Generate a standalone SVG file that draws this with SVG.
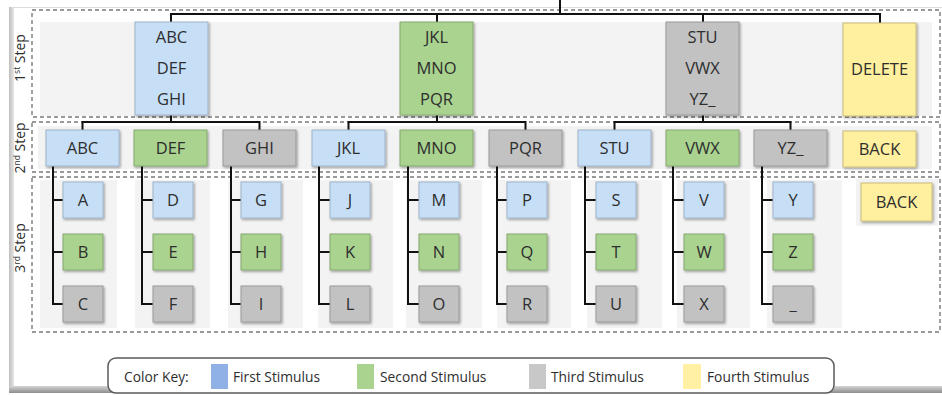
<svg xmlns="http://www.w3.org/2000/svg" width="942" height="395" viewBox="0 0 942 395">
  <defs>
    <filter id="shadow" x="-10%" y="-10%" width="130%" height="130%">
      <feDropShadow dx="1.2" dy="1.5" stdDeviation="0.8" flood-color="#000" flood-opacity="0.35"/>
    </filter>
    <linearGradient id="bevelLeft" x1="0" y1="0" x2="1" y2="0">
      <stop offset="0" stop-color="#bdbdbd"/>
      <stop offset="1" stop-color="#e6e6e6"/>
    </linearGradient>
    <linearGradient id="bevelBottom" x1="0" y1="0" x2="0" y2="1">
      <stop offset="0" stop-color="#d6d6d6"/>
      <stop offset="1" stop-color="#8c8c8c"/>
    </linearGradient>
    <style>
      .lbl { font-family: "Open Sans", "Liberation Sans", sans-serif; font-size: 16.5px; fill: #2e2e2e; text-anchor: middle; }
      .step { font-family: "Open Sans", "Liberation Sans", sans-serif; font-size: 14px; fill: #2e2e2e; text-anchor: middle; }
      .key { font-family: "Open Sans", "Liberation Sans", sans-serif; font-size: 13.8px; fill: #2e2e2e; }
      .zone { fill: none; stroke: #7a7a7a; stroke-width: 1.4; stroke-dasharray: 4 3; }
      .bg { fill: #f3f3f3; }
      .node { stroke-width: 1; filter: url(#shadow); }
      .blue { fill: #c6dff7; stroke: #9fb3c9; }
      .green { fill: #a9d38e; stroke: #87a872; }
      .grey { fill: #c2c2c2; stroke: #999; }
      .yellow { fill: #fff09f; stroke: #c9bc7c; }
      .wire { fill: none; stroke: #111; stroke-width: 2; }
    </style>
  </defs>

  <!-- slide frame -->
  <rect x="0" y="0" width="942" height="395" fill="#fff"/>
  <line x1="9" y1="7.5" x2="942" y2="7.5" stroke="#dcdcdc" stroke-width="1"/>
  <rect x="9" y="7" width="5" height="386" fill="url(#bevelLeft)"/>
  <rect x="9" y="386" width="933" height="7" fill="url(#bevelBottom)"/>

  <!-- step zones -->
  <rect class="bg" x="40" y="22" width="892" height="94"/>
  <rect class="bg" x="38" y="126" width="894" height="43"/>
  <g id="columns" class="bg">
    <rect x="40" y="180" width="77" height="148"/>
    <rect x="135" y="180" width="75" height="148"/>
    <rect x="228" y="180" width="75" height="148"/>
    <rect x="318" y="180" width="75" height="148"/>
    <rect x="406" y="180" width="76" height="148"/>
    <rect x="497" y="180" width="74" height="148"/>
    <rect x="587" y="180" width="75" height="148"/>
    <rect x="677" y="180" width="73" height="148"/>
    <rect x="767" y="180" width="75" height="148"/>
    <rect x="856" y="179" width="82" height="47"/>
  </g>
  <rect class="zone" x="32" y="10" width="908" height="107"/>
  <rect class="zone" x="32" y="122" width="908" height="50"/>
  <rect class="zone" x="32" y="177" width="908" height="155"/>

  <!-- step captions -->
  <text class="step" transform="translate(25,58) rotate(-90)">1<tspan font-size="8.5" dy="-5">st</tspan><tspan dy="5"> Step</tspan></text>
  <text class="step" transform="translate(25,148) rotate(-90)">2<tspan font-size="8.5" dy="-5">nd</tspan><tspan dy="5"> Step</tspan></text>
  <text class="step" transform="translate(25,248) rotate(-90)">3<tspan font-size="8.5" dy="-5">rd</tspan><tspan dy="5"> Step</tspan></text>

  <!-- connectors -->
  <g id="connectors" class="wire">
    <path d="M560,0 V14 M171,22 V14 H880 V23 M437,22 V14 M703,22 V14"/>
    <path d="M171,115 V122 M82.5,130 V122 H259.5 V130"/>
    <path d="M437,115 V122 M348.5,130 V122 H525.5 V130"/>
    <path d="M703,115 V122 M614.5,130 V122 H790.5 V130"/>
    <path d="M53,166 V304 H63 M53,200 H63 M53,252 H63"/>
    <path d="M142,166 V304 H153 M142,200 H153 M142,252 H153"/>
    <path d="M231,166 V304 H241 M231,200 H241 M231,252 H241"/>
    <path d="M319,166 V304 H330 M319,200 H330 M319,252 H330"/>
    <path d="M408,166 V304 H419 M408,200 H419 M408,252 H419"/>
    <path d="M497,166 V304 H507 M497,200 H507 M497,252 H507"/>
    <path d="M585,166 V304 H596 M585,200 H596 M585,252 H596"/>
    <path d="M673,166 V304 H684 M673,200 H684 M673,252 H684"/>
    <path d="M762,166 V304 H773 M762,200 H773 M762,252 H773"/>
  </g>

  <!-- first step -->
  <g id="s1-abc"><rect class="node blue" x="135" y="22" width="73" height="93"/>
    <text class="lbl" x="171.5" y="43">ABC</text><text class="lbl" x="171.5" y="74">DEF</text><text class="lbl" x="171.5" y="105">GHI</text></g>
  <g id="s1-jkl"><rect class="node green" x="400" y="22" width="73" height="93"/>
    <text class="lbl" x="436.5" y="43">JKL</text><text class="lbl" x="436.5" y="74">MNO</text><text class="lbl" x="436.5" y="105">PQR</text></g>
  <g id="s1-stu"><rect class="node grey" x="666" y="22" width="73" height="93"/>
    <text class="lbl" x="702.5" y="43">STU</text><text class="lbl" x="702.5" y="74">VWX</text><text class="lbl" x="702.5" y="105">YZ_</text></g>
  <g id="s1-delete"><rect class="node yellow" x="843" y="23" width="73" height="93"/>
    <text class="lbl" x="879.5" y="75">DELETE</text></g>

  <!-- second step -->
  <g id="s2-abc"><rect class="node blue" x="46" y="130" width="73" height="36"/><text class="lbl" x="82.5" y="154">ABC</text></g>
  <g id="s2-def"><rect class="node green" x="134" y="130" width="73" height="36"/><text class="lbl" x="170.5" y="154">DEF</text></g>
  <g id="s2-ghi"><rect class="node grey" x="223" y="130" width="73" height="36"/><text class="lbl" x="259.5" y="154">GHI</text></g>
  <g id="s2-jkl"><rect class="node blue" x="312" y="130" width="73" height="36"/><text class="lbl" x="348.5" y="154">JKL</text></g>
  <g id="s2-mno"><rect class="node green" x="400" y="130" width="73" height="36"/><text class="lbl" x="436.5" y="154">MNO</text></g>
  <g id="s2-pqr"><rect class="node grey" x="489" y="130" width="73" height="36"/><text class="lbl" x="525.5" y="154">PQR</text></g>
  <g id="s2-stu"><rect class="node blue" x="578" y="130" width="73" height="36"/><text class="lbl" x="614.5" y="154">STU</text></g>
  <g id="s2-vwx"><rect class="node green" x="666" y="130" width="73" height="36"/><text class="lbl" x="702.5" y="154">VWX</text></g>
  <g id="s2-yz"><rect class="node grey" x="754" y="130" width="73" height="36"/><text class="lbl" x="790.5" y="154">YZ_</text></g>
  <g id="s2-back"><rect class="node yellow" x="843" y="131" width="73" height="36"/><text class="lbl" x="879.5" y="155">BACK</text></g>

  <!-- third step -->
  <g id="s3-a"><rect class="node blue" x="63" y="182" width="40" height="36"/><text class="lbl" x="83" y="206">A</text></g>
  <g id="s3-b"><rect class="node green" x="63" y="234" width="40" height="36"/><text class="lbl" x="83" y="258">B</text></g>
  <g id="s3-c"><rect class="node grey" x="63" y="286" width="40" height="36"/><text class="lbl" x="83" y="310">C</text></g>
  <g id="s3-d"><rect class="node blue" x="153" y="182" width="40" height="36"/><text class="lbl" x="173" y="206">D</text></g>
  <g id="s3-e"><rect class="node green" x="153" y="234" width="40" height="36"/><text class="lbl" x="173" y="258">E</text></g>
  <g id="s3-f"><rect class="node grey" x="153" y="286" width="40" height="36"/><text class="lbl" x="173" y="310">F</text></g>
  <g id="s3-g"><rect class="node blue" x="241" y="182" width="40" height="36"/><text class="lbl" x="261" y="206">G</text></g>
  <g id="s3-h"><rect class="node green" x="241" y="234" width="40" height="36"/><text class="lbl" x="261" y="258">H</text></g>
  <g id="s3-i"><rect class="node grey" x="241" y="286" width="40" height="36"/><text class="lbl" x="261" y="310">I</text></g>
  <g id="s3-j"><rect class="node blue" x="330" y="182" width="40" height="36"/><text class="lbl" x="350" y="206">J</text></g>
  <g id="s3-k"><rect class="node green" x="330" y="234" width="40" height="36"/><text class="lbl" x="350" y="258">K</text></g>
  <g id="s3-l"><rect class="node grey" x="330" y="286" width="40" height="36"/><text class="lbl" x="350" y="310">L</text></g>
  <g id="s3-m"><rect class="node blue" x="419" y="182" width="40" height="36"/><text class="lbl" x="439" y="206">M</text></g>
  <g id="s3-n"><rect class="node green" x="419" y="234" width="40" height="36"/><text class="lbl" x="439" y="258">N</text></g>
  <g id="s3-o"><rect class="node grey" x="419" y="286" width="40" height="36"/><text class="lbl" x="439" y="310">O</text></g>
  <g id="s3-p"><rect class="node blue" x="507" y="182" width="40" height="36"/><text class="lbl" x="527" y="206">P</text></g>
  <g id="s3-q"><rect class="node green" x="507" y="234" width="40" height="36"/><text class="lbl" x="527" y="258">Q</text></g>
  <g id="s3-r"><rect class="node grey" x="507" y="286" width="40" height="36"/><text class="lbl" x="527" y="310">R</text></g>
  <g id="s3-s"><rect class="node blue" x="596" y="182" width="40" height="36"/><text class="lbl" x="616" y="206">S</text></g>
  <g id="s3-t"><rect class="node green" x="596" y="234" width="40" height="36"/><text class="lbl" x="616" y="258">T</text></g>
  <g id="s3-u"><rect class="node grey" x="596" y="286" width="40" height="36"/><text class="lbl" x="616" y="310">U</text></g>
  <g id="s3-v"><rect class="node blue" x="684" y="182" width="40" height="36"/><text class="lbl" x="704" y="206">V</text></g>
  <g id="s3-w"><rect class="node green" x="684" y="234" width="40" height="36"/><text class="lbl" x="704" y="258">W</text></g>
  <g id="s3-x"><rect class="node grey" x="684" y="286" width="40" height="36"/><text class="lbl" x="704" y="310">X</text></g>
  <g id="s3-y"><rect class="node blue" x="773" y="182" width="40" height="36"/><text class="lbl" x="793" y="206">Y</text></g>
  <g id="s3-z"><rect class="node green" x="773" y="234" width="40" height="36"/><text class="lbl" x="793" y="258">Z</text></g>
  <g id="s3-space"><rect class="node grey" x="773" y="286" width="40" height="36"/><text class="lbl" x="793" y="310">_</text></g>
  <g id="s3-back"><rect class="node yellow" x="861" y="183" width="71" height="38"/><text class="lbl" x="896.5" y="208">BACK</text></g>

  <!-- colour key -->
  <g id="legend">
    <rect x="108" y="358" width="726" height="35" rx="8" fill="#fff" stroke="#5a5a5a" stroke-width="1.5"/>
    <text class="key" x="124" y="382">Color Key:</text>
    <rect x="211" y="364" width="17" height="25" fill="#8fb1e6"/>
    <text class="key" x="233" y="382">First Stimulus</text>
    <rect x="357" y="364" width="17" height="25" fill="#a9d38e"/>
    <text class="key" x="380" y="382">Second Stimulus</text>
    <rect x="529" y="364" width="17" height="25" fill="#c8c8c8"/>
    <text class="key" x="551" y="382">Third Stimulus</text>
    <rect x="683" y="364" width="18" height="25" fill="#fff0a3"/>
    <text class="key" x="707" y="382">Fourth Stimulus</text>
  </g>
</svg>
